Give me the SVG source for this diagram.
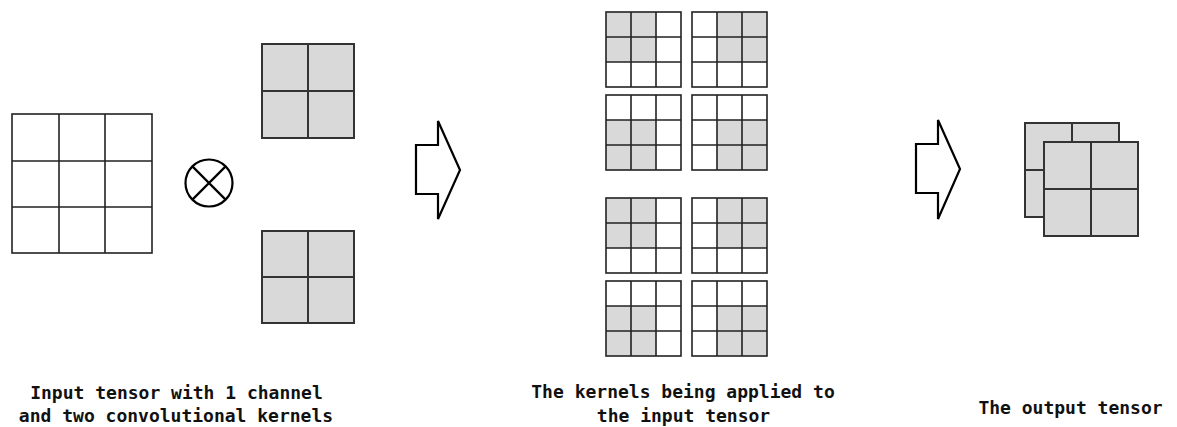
<svg xmlns="http://www.w3.org/2000/svg" width="1177" height="427" viewBox="0 0 1177 427">
<style>
.bg{fill:#fff}
.cell{fill:#fff;stroke:#222;stroke-width:1.6}
.sh{fill:#d9d9d9;stroke:#333;stroke-width:1.6}
.k{fill:#d9d9d9;stroke:#333;stroke-width:2}
.ln{stroke:#222;stroke-width:1.6;fill:none}
.kl{stroke:#333;stroke-width:2;fill:none}
.arrow{fill:#fff;stroke:#000;stroke-width:2.2;stroke-linejoin:miter}
.lbl{font-family:"DejaVu Sans Mono","Liberation Mono",monospace;font-weight:bold;font-size:18px;fill:#111;text-anchor:middle}
</style>
<defs>
<g id="g3">
<rect x="0" y="0" width="75" height="75" fill="#fff"/>
</g>
</defs>
<rect class="bg" x="0" y="0" width="1177" height="427"/>

<g id="input-tensor">
<rect x="12" y="114" width="140" height="139" fill="#fff" stroke="#222" stroke-width="1.6"/>
<path class="ln" d="M59 114V253M105 114V253M12 161H152M12 207H152"/>
</g>

<g id="conv-operator">
<circle cx="209" cy="183" r="23.5" fill="#fff" stroke="#000" stroke-width="2.2"/>
<path d="M192.4 166.4L225.6 199.6M225.6 166.4L192.4 199.6" stroke="#000" stroke-width="2.2"/>
</g>

<g id="kernel-1">
<rect class="k" x="262" y="44" width="92" height="94"/>
<path class="kl" d="M308 44V138M262 91H354"/>
</g>

<g id="kernel-2">
<rect class="k" x="262" y="231" width="92" height="92"/>
<path class="kl" d="M308 231V323M262 277H354"/>
</g>

<g id="arrow-1">
<path class="arrow" d="M416 145H438V121L460 170L438 219V194H416Z"/>
</g>

<g id="applied-1">
<g transform="translate(606,12)">
<rect x="0" y="0" width="75" height="75" fill="#fff"/>
<rect x="0" y="0" width="50" height="50" fill="#d9d9d9"/>
<rect x="0" y="0" width="75" height="75" class="ln"/>
<path class="ln" d="M25 0V75M50 0V75M0 25H75M0 50H75"/>
</g>
<g transform="translate(692,12)">
<rect x="0" y="0" width="75" height="75" fill="#fff"/>
<rect x="25" y="0" width="50" height="50" fill="#d9d9d9"/>
<rect x="0" y="0" width="75" height="75" class="ln"/>
<path class="ln" d="M25 0V75M50 0V75M0 25H75M0 50H75"/>
</g>
<g transform="translate(606,95)">
<rect x="0" y="0" width="75" height="75" fill="#fff"/>
<rect x="0" y="25" width="50" height="50" fill="#d9d9d9"/>
<rect x="0" y="0" width="75" height="75" class="ln"/>
<path class="ln" d="M25 0V75M50 0V75M0 25H75M0 50H75"/>
</g>
<g transform="translate(692,95)">
<rect x="0" y="0" width="75" height="75" fill="#fff"/>
<rect x="25" y="25" width="50" height="50" fill="#d9d9d9"/>
<rect x="0" y="0" width="75" height="75" class="ln"/>
<path class="ln" d="M25 0V75M50 0V75M0 25H75M0 50H75"/>
</g>
</g>

<g id="applied-2">
<g transform="translate(606,198)">
<rect x="0" y="0" width="75" height="75" fill="#fff"/>
<rect x="0" y="0" width="50" height="50" fill="#d9d9d9"/>
<rect x="0" y="0" width="75" height="75" class="ln"/>
<path class="ln" d="M25 0V75M50 0V75M0 25H75M0 50H75"/>
</g>
<g transform="translate(692,198)">
<rect x="0" y="0" width="75" height="75" fill="#fff"/>
<rect x="25" y="0" width="50" height="50" fill="#d9d9d9"/>
<rect x="0" y="0" width="75" height="75" class="ln"/>
<path class="ln" d="M25 0V75M50 0V75M0 25H75M0 50H75"/>
</g>
<g transform="translate(606,281)">
<rect x="0" y="0" width="75" height="75" fill="#fff"/>
<rect x="0" y="25" width="50" height="50" fill="#d9d9d9"/>
<rect x="0" y="0" width="75" height="75" class="ln"/>
<path class="ln" d="M25 0V75M50 0V75M0 25H75M0 50H75"/>
</g>
<g transform="translate(692,281)">
<rect x="0" y="0" width="75" height="75" fill="#fff"/>
<rect x="25" y="25" width="50" height="50" fill="#d9d9d9"/>
<rect x="0" y="0" width="75" height="75" class="ln"/>
<path class="ln" d="M25 0V75M50 0V75M0 25H75M0 50H75"/>
</g>
</g>

<g id="arrow-2">
<path class="arrow" d="M916 144H938V120L960 169L938 219V193H916Z"/>
</g>

<g id="output-tensor">
<rect class="k" x="1025" y="123" width="94" height="94"/>
<path class="kl" d="M1072 123V217M1025 170H1119"/>
<rect class="k" x="1044" y="142" width="94" height="94"/>
<path class="kl" d="M1091 142V236M1044 189H1138"/>
</g>

<g id="labels">
<text class="lbl" x="176.5" y="399">Input tensor with 1 channel</text>
<text class="lbl" x="176" y="422">and two convolutional kernels</text>
<text class="lbl" x="683" y="398">The kernels being applied to</text>
<text class="lbl" x="683.5" y="421.5">the input tensor</text>
<text class="lbl" x="1070.5" y="414">The output tensor</text>
</g>
</svg>
